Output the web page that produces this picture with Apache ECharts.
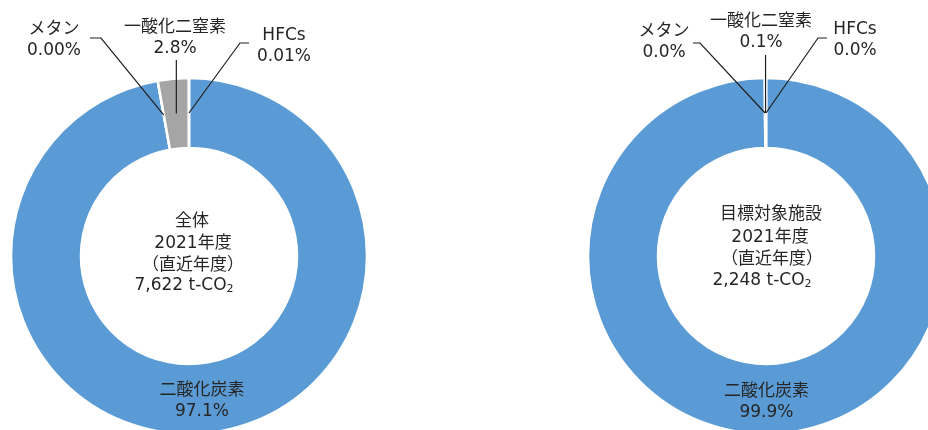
<!DOCTYPE html>
<html><head><meta charset="utf-8">
<script src="https://cdn.jsdelivr.net/npm/echarts@6/dist/echarts.min.js"></script>
<style>html,body{margin:0;padding:0;background:#fff}#c{width:928px;height:430px}</style>
</head><body><div id="c"></div>
<script>
// ---- data ----
const categories = ['二酸化炭素', 'メタン', '一酸化二窒素', 'HFCs'];
const totalValues = [97.1, 0.00, 2.8, 0.01];
const totalDecimals = [1, 2, 1, 2];
const targetValues = [99.9, 0.0, 0.1, 0.0];
const targetDecimals = [1, 1, 1, 1];
const totalCenterLines = ['全体', '2021年度', '（直近年度）', '7,622 t-CO{sub|2}'];
const targetCenterLines = ['目標対象施設', '2021年度', '（直近年度）', '2,248 t-CO{sub|2}'];

// ---- layout / style ----
const colors = ['#5B9BD5', '#A5A5A5', '#A5A5A5', '#A5A5A5'];
const textColor = '#262626';
const font = '"DejaVu Sans", "Noto Sans CJK JP", sans-serif';
const rIn = 108, rOut = 178, rAnchor = 143;
const pies = [
  {
    center: [189, 256], values: totalValues, decimals: totalDecimals,
    labelPos: [null, [54, 40], [175, 38], [284, 46]],
    legs: [null, [[101, 38], [90, 38]], [[null, 60]], [[240, 43], [249, 43]]],
    lines: totalCenterLines, linePos: [[192, 222], [193, 244], [193, 266], [184, 286]]
  },
  {
    center: [766, 256], values: targetValues, decimals: targetDecimals,
    labelPos: [null, [664, 42], [761, 32], [855, 40]],
    legs: [null, [[700, 43], [693, 43]], [[null, 55]], [[818, 38], [827, 38]]],
    lines: targetCenterLines, linePos: [[771, 215], [770, 238], [772, 260], [762, 281]]
  }
];

function anchorPoint(p, i) {
  const vals = p.values;
  const total = vals.reduce((a, b) => a + b, 0);
  let cum = 0;
  for (let k = 0; k < i; k++) cum += vals[k];
  const frac = (cum + vals[i] / 2) / total;
  const th = frac * 2 * Math.PI;
  return [p.center[0] + rAnchor * Math.sin(th), p.center[1] - rAnchor * Math.cos(th)];
}

const series = [];
pies.forEach(p => {
  // visible ring
  series.push({
    type: 'pie', z: 2,
    center: p.center, radius: [rIn, rOut],
    startAngle: 90, clockwise: true,
    avoidLabelOverlap: false, animation: false, silent: true,
    itemStyle: { borderColor: '#fff', borderWidth: 2.5 },
    label: { show: false }, labelLine: { show: false },
    data: categories.map((c, i) => ({ name: c, value: p.values[i], itemStyle: { color: colors[i] } }))
  });
  // transparent twin carrying the labels and leader lines above the ring
  series.push({
    type: 'pie', z: 4,
    center: p.center, radius: [rIn, rOut],
    startAngle: 90, clockwise: true,
    avoidLabelOverlap: false, animation: false, silent: true,
    itemStyle: { color: 'rgba(0,0,0,0)', borderWidth: 0 },
    label: {
      show: true, color: textColor, fontFamily: font, fontSize: 17, lineHeight: 21,
      formatter: (prm) => categories[prm.dataIndex] + '\n' +
        p.values[prm.dataIndex].toFixed(p.decimals[prm.dataIndex]) + '%'
    },
    labelLine: { show: true, smooth: false, lineStyle: { color: '#1f1f1f', width: 1.2, opacity: 1 } },
    labelLayout: (prm) => {
      const i = prm.dataIndex;
      if (!p.labelPos[i]) return {};
      const a = anchorPoint(p, i);
      const pts = [a].concat(p.legs[i].map(q => [q[0] == null ? a[0] : q[0], q[1]]));
      return {
        x: p.labelPos[i][0], y: p.labelPos[i][1],
        align: 'center', verticalAlign: 'middle',
        labelLinePoints: pts
      };
    },
    data: categories.map((c, i) => ({
      name: c, value: p.values[i],
      label: { position: i === 0 ? 'inside' : 'outside' },
      labelLine: { show: i !== 0 }
    }))
  });
});

const graphics = [];
pies.forEach(p => {
  p.lines.forEach((t, k) => {
    graphics.push({
      type: 'text', x: p.linePos[k][0], y: p.linePos[k][1], silent: true,
      style: {
        text: t, fill: textColor, fontSize: 17, fontFamily: font,
        align: 'center', verticalAlign: 'middle',
        rich: {
          sub: { fontSize: 11, fontFamily: font, fill: textColor, verticalAlign: 'bottom', lineHeight: 11, padding: [6, 0, 0, 0] }
        }
      }
    });
  });
});

const chart = echarts.init(document.getElementById('c'), null, { renderer: 'canvas' });
chart.setOption({
  backgroundColor: '#fff',
  animation: false,
  series: series,
  graphic: graphics
});
</script>
</body></html>
